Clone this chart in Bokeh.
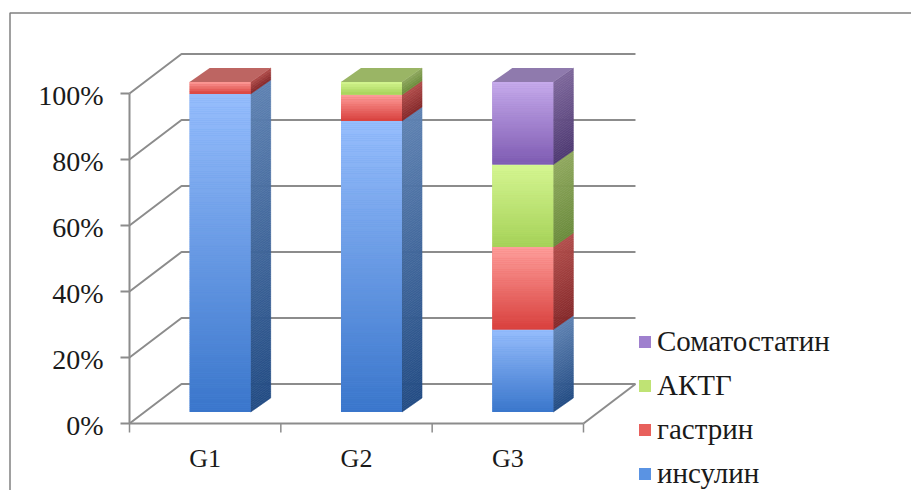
from bokeh.core.properties import value
from bokeh.embed import file_html
from bokeh.models import BoxAnnotation, Legend, LegendItem, Range1d
from bokeh.plotting import figure
from bokeh.resources import INLINE

# Stacked shares per tumour grade, in percent
categories = ["G1", "G2", "G3"]
insulin = [96.4, 88.2, 25.0]
gastrin = [3.6, 7.9, 25.0]
acth = [0.0, 3.9, 25.0]
somatostatin = [0.0, 0.0, 25.0]
percent_ticks = [0, 20, 40, 60, 80, 100]
percent_labels = ["0%", "20%", "40%", "60%", "80%", "100%"]

series = [
    # name, values, front top/bottom, side top/bottom, cap, swatch
    ("инсулин", insulin, "#97BEFD", "#3A76CB", "#5F82B2", "#234C84", "#6F8FBF", "#5A93E3"),
    ("гастрин", gastrin, "#FF9F9C", "#D8403D", "#B24E4B", "#85282A", "#BD6562", "#E8605C"),
    ("АКТГ", acth, "#D6F793", "#A5D158", "#8FA85E", "#6B8B3C", "#9AB565", "#BFE374"),
    ("Соматостатин", somatostatin, "#C7ABEC", "#7E5BB2", "#7D679B", "#4E3972", "#8F7AAD", "#9F80CE"),
]
legend_order = ["Соматостатин", "АКТГ", "гастрин", "инсулин"]

# Pixel scale of the drawing area and the position of the origin in it
W, H = 911, 490
X0_PX, Y0_PX = 129, 67
PX_PER_CAT = 151.33
PX_PER_PCT = 3.3

# Oblique projection, in data units
WALL_DX, WALL_DY = 52 / PX_PER_CAT, 39.5 / PX_PER_PCT
BAR_DX, BAR_DY = 15 / PX_PER_CAT, 11.5 / PX_PER_PCT
DEPTH_DX, DEPTH_DY = 20 / PX_PER_CAT, 14 / PX_PER_PCT
BAR_W = 61 / PX_PER_CAT
TICK_X, TICK_Y = 9 / PX_PER_CAT, 9 / PX_PER_PCT

GREY = "#8C8C8C"
INK = "#1a1a1a"
FONT = "Liberation Serif"


def mix(c0, c1, t):
    a = [int(c0[i:i + 2], 16) for i in (1, 3, 5)]
    b = [int(c1[i:i + 2], 16) for i in (1, 3, 5)]
    return "#%02x%02x%02x" % tuple(round(u + (v - u) * t) for u, v in zip(a, b))


p = figure(width=W, height=H, output_backend="svg", toolbar_location=None,
           x_axis_type=None, y_axis_type=None,
           x_range=Range1d(-X0_PX / PX_PER_CAT, (W - X0_PX) / PX_PER_CAT),
           y_range=Range1d(-Y0_PX / PX_PER_PCT, (H - Y0_PX) / PX_PER_PCT),
           min_border=0, outline_line_color=None,
           background_fill_color="white", border_fill_color="white")
p.grid.visible = False

# Chart border, open towards the window's right and bottom edges
p.add_layout(BoxAnnotation(left=9.5, right=930, top=12.5, bottom=520,
                           left_units="canvas", right_units="canvas",
                           top_units="canvas", bottom_units="canvas",
                           fill_alpha=0, line_color="#808080", line_alpha=1,
                           line_width=1.5, level="underlay"))

# Side wall and back wall rules
n_cat = len(categories)
for t in percent_ticks:
    p.line([0, WALL_DX, n_cat + WALL_DX], [t, t + WALL_DY, t + WALL_DY],
           line_color=GREY, line_width=2)
p.line([n_cat, n_cat + WALL_DX], [0, WALL_DY], line_color=GREY, line_width=2)

# Bars: a flat base per series with shaded strips laid over each face
renderers = {}
for s_idx, (name, values, f0, f1, s0, s1, cap, swatch) in enumerate(series):
    lefts, rights, tops, bottoms = [], [], [], []
    for c in range(n_cat):
        if values[c] <= 0:
            continue
        base = sum(series[k][1][c] for k in range(s_idx))
        x0 = c + 0.5 + BAR_DX - BAR_W / 2
        lefts.append(x0)
        rights.append(x0 + BAR_W)
        bottoms.append(base + BAR_DY)
        tops.append(base + values[c] + BAR_DY)
    renderers[name] = p.quad(left=lefts, right=rights, top=tops, bottom=bottoms,
                             fill_color=swatch, line_color=None)

    front_l, front_r, front_t, front_b, front_c = [], [], [], [], []
    side_x, side_y, side_c = [], [], []
    for x0, x1, y0, y1 in zip(lefts, rights, bottoms, tops):
        n = max(5, int((y1 - y0) * 1.5))
        dy = (y1 - y0) / n
        for i in range(n):
            lo, hi = y1 - (i + 1) * dy, y1 - i * dy
            t = (i + 0.5) / n
            front_l.append(x0)
            front_r.append(x1)
            front_t.append(hi)
            front_b.append(lo)
            front_c.append(mix(f0, f1, t))
            side_x.append([x1, x1 + DEPTH_DX, x1 + DEPTH_DX, x1])
            side_y.append([lo, lo + DEPTH_DY, hi + DEPTH_DY, hi])
            side_c.append(mix(s0, s1, t))
    p.patches(side_x, side_y, fill_color=side_c, line_color=side_c, line_width=0.6)
    p.quad(left=front_l, right=front_r, top=front_t, bottom=front_b,
           fill_color=front_c, line_color=None)
    p.segment(x0=front_l, x1=front_r, y0=front_t, y1=front_t, line_color=front_c, line_width=0.6)

# Top face in the colour of each stack's highest series
for c in range(n_cat):
    live = [s for s in series if s[1][c] > 0]
    top = sum(s[1][c] for s in live) + BAR_DY
    x0 = c + 0.5 + BAR_DX - BAR_W / 2
    p.patch([x0, x0 + BAR_W, x0 + BAR_W + DEPTH_DX, x0 + DEPTH_DX],
            [top, top, top + DEPTH_DY, top + DEPTH_DY],
            fill_color=live[-1][6], line_color=None)

# Front edges of the box with their ticks and labels
p.line([0, 0], [0, 100], line_color=GREY, line_width=2)
p.segment(x0=[-TICK_X] * len(percent_ticks), x1=[0] * len(percent_ticks),
          y0=percent_ticks, y1=percent_ticks, line_color=GREY, line_width=2)
p.text(x=[-TICK_X - 17 / PX_PER_CAT] * len(percent_ticks), y=percent_ticks, text=percent_labels,
       text_font=value(FONT), text_font_size="28px", text_color=INK,
       text_align="right", text_baseline="middle", y_offset=2)

p.line([0, n_cat], [0, 0], line_color=GREY, line_width=2)
edges = list(range(n_cat + 1))
p.segment(x0=edges, x1=edges, y0=[0] * len(edges), y1=[-TICK_Y] * len(edges),
          line_color=GREY, line_width=1.5)
p.text(x=[i + 0.5 for i in range(n_cat)], y=[-35 / PX_PER_PCT] * n_cat, text=categories,
       text_font=value(FONT), text_font_size="26px", text_color=INK,
       text_align="center", text_baseline="middle")

legend = Legend(items=[LegendItem(label=n, renderers=[renderers[n]]) for n in legend_order],
                location=(637, 0), orientation="vertical",
                glyph_width=15, glyph_height=15, label_standoff=5, spacing=11,
                padding=0, margin=0, label_height=30,
                border_line_color=None, background_fill_alpha=0,
                label_text_font=FONT, label_text_font_size="29px", label_text_color=INK)
p.add_layout(legend)

open("out.html", "w").write(file_html(p, INLINE))
